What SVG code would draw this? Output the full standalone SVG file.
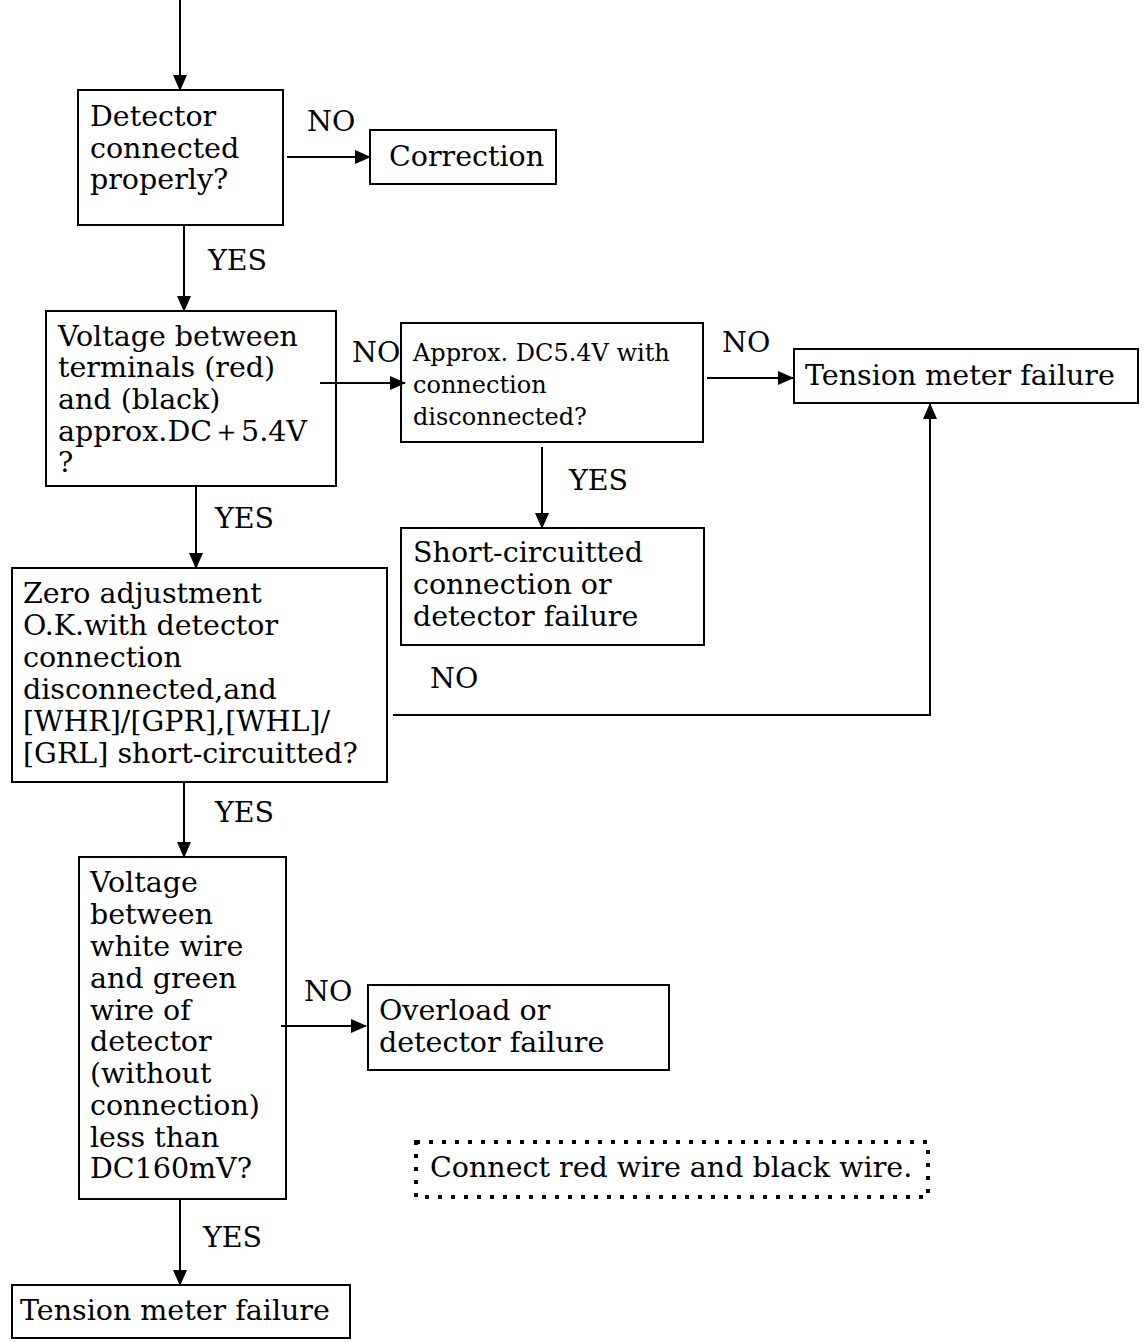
<svg xmlns="http://www.w3.org/2000/svg" width="1145" height="1342" viewBox="0 0 1145 1342">
<style>
.box{fill:#fff;stroke:#000;stroke-width:2}
.t{font-family:"DejaVu Serif","Liberation Serif",serif;font-size:28.5px;fill:#000}
.s{font-family:"DejaVu Serif","Liberation Serif",serif;font-size:24px;fill:#000}
.c{fill:none;stroke:#000;stroke-width:2}
.dot{fill:none;stroke:#000;stroke-width:4;stroke-dasharray:4 9}
</style>
<defs>
<marker id="ah" markerUnits="userSpaceOnUse" markerWidth="16" markerHeight="14" refX="15" refY="7" orient="auto">
<path d="M0,0 L16,7 L0,14 Z" fill="#000"/>
</marker>
</defs>
<rect width="1145" height="1342" fill="#fff"/>
<g id="n1">
<rect class="box" x="78" y="90" width="205" height="135"/>
<text class="t" x="90" y="126">Detector</text>
<text class="t" x="90" y="158">connected</text>
<text class="t" x="90" y="189">properly?</text>
</g>
<g id="n2">
<rect class="box" x="370" y="130" width="186" height="54"/>
<text class="t" x="389" y="166">Correction</text>
</g>
<g id="n3">
<rect class="box" x="46" y="311" width="290" height="175"/>
<text class="t" x="58" y="346">Voltage between</text>
<text class="t" x="58" y="377">terminals (red)</text>
<text class="t" x="58" y="409">and (black)</text>
<text class="t" x="58" y="441">approx.DC＋5.4V</text>
<text class="t" x="58" y="472">?</text>
</g>
<g id="n4">
<rect class="box" x="401" y="323" width="302" height="119"/>
<text class="s" x="413" y="361">Approx. DC5.4V with</text>
<text class="s" x="413" y="393">connection</text>
<text class="s" x="413" y="425">disconnected?</text>
</g>
<g id="n5">
<rect class="box" x="794" y="349" width="344" height="54"/>
<text class="t" x="805" y="385">Tension meter failure</text>
</g>
<g id="n6">
<rect class="box" x="401" y="528" width="303" height="117"/>
<text class="t" x="413" y="562">Short-circuitted</text>
<text class="t" x="413" y="594">connection or</text>
<text class="t" x="413" y="626">detector failure</text>
</g>
<g id="n7">
<rect class="box" x="12" y="568" width="375" height="214"/>
<text class="t" x="23" y="603">Zero adjustment</text>
<text class="t" x="23" y="635">O.K.with detector</text>
<text class="t" x="23" y="667">connection</text>
<text class="t" x="23" y="699">disconnected,and</text>
<text class="t" x="23" y="731">[WHR]/[GPR],[WHL]/</text>
<text class="t" x="23" y="763">[GRL] short-circuitted?</text>
</g>
<g id="n8">
<rect class="box" x="79" y="857" width="207" height="342"/>
<text class="t" x="90" y="892">Voltage</text>
<text class="t" x="90" y="924">between</text>
<text class="t" x="90" y="956">white wire</text>
<text class="t" x="90" y="988">and green</text>
<text class="t" x="90" y="1020">wire of</text>
<text class="t" x="90" y="1051">detector</text>
<text class="t" x="90" y="1083">(without</text>
<text class="t" x="90" y="1115">connection)</text>
<text class="t" x="90" y="1147">less than</text>
<text class="t" x="90" y="1178">DC160mV?</text>
</g>
<g id="n9">
<rect class="box" x="368" y="985" width="301" height="85"/>
<text class="t" x="379" y="1020">Overload or</text>
<text class="t" x="379" y="1052">detector failure</text>
</g>
<g id="n10">
<rect class="dot" x="416" y="1142" width="512" height="55"/>
<text class="t" x="430" y="1177">Connect red wire and black wire.</text>
</g>
<g id="n11">
<rect class="box" x="12" y="1285" width="338" height="53"/>
<text class="t" x="20" y="1320">Tension meter failure</text>
</g>
<g id="connectors">
<line class="c" x1="180" y1="0" x2="180" y2="90" marker-end="url(#ah)"/>
<line class="c" x1="287" y1="157" x2="370" y2="157" marker-end="url(#ah)"/>
<line class="c" x1="184" y1="225" x2="184" y2="311" marker-end="url(#ah)"/>
<line class="c" x1="320" y1="383" x2="405" y2="383" marker-end="url(#ah)"/>
<line class="c" x1="707" y1="378" x2="793" y2="378" marker-end="url(#ah)"/>
<line class="c" x1="542" y1="447" x2="542" y2="528" marker-end="url(#ah)"/>
<polyline class="c" points="393,715 930,715 930,404" marker-end="url(#ah)"/>
<line class="c" x1="196" y1="486" x2="196" y2="568" marker-end="url(#ah)"/>
<line class="c" x1="184" y1="782" x2="184" y2="857" marker-end="url(#ah)"/>
<line class="c" x1="281" y1="1026" x2="366" y2="1026" marker-end="url(#ah)"/>
<line class="c" x1="180" y1="1199" x2="180" y2="1285" marker-end="url(#ah)"/>
<text class="t" x="307" y="131">NO</text>
<text class="t" x="208" y="270">YES</text>
<text class="t" x="352" y="362">NO</text>
<text class="t" x="722" y="352">NO</text>
<text class="t" x="569" y="490">YES</text>
<text class="t" x="215" y="528">YES</text>
<text class="t" x="430" y="688">NO</text>
<text class="t" x="215" y="822">YES</text>
<text class="t" x="304" y="1001">NO</text>
<text class="t" x="203" y="1247">YES</text>
</g>
</svg>
